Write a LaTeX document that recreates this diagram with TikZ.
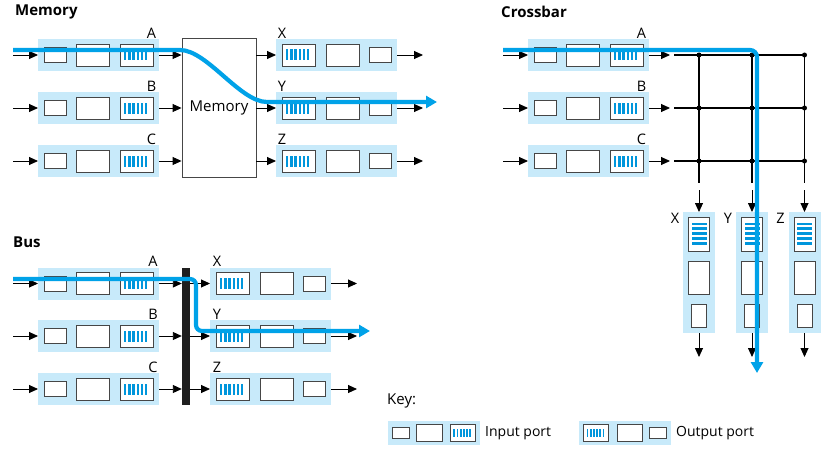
\documentclass[tikz,border=0pt]{standalone}
\usepackage{fontspec}
\setmainfont{Open Sans}
\usetikzlibrary{arrows.meta,calc}
\definecolor{portbg}{RGB}{200,234,250}
\definecolor{qblue}{RGB}{0,150,220}
\definecolor{pathblue}{RGB}{0,162,232}
\definecolor{boxline}{RGB}{70,70,70}
\tikzset{
  portnode/.style={fill=portbg, draw=none, inner sep=0pt, outer sep=0pt},
  boxd/.style={draw=boxline, fill=white, line width=0.9pt},
  arr/.style={draw=black, line width=0.9pt, -{Triangle[length=9pt,width=8pt]}},
  flow/.style={draw=pathblue, line width=4.2pt, -{Triangle[length=11pt,width=12pt]}},
  lab/.style={font=\fontsize{14.5}{16}\selectfont, inner sep=0pt},
  ttl/.style={font=\fontsize{15}{17}\selectfont\bfseries, inner sep=0pt, anchor=west},
  keytxt/.style={font=\fontsize{14}{16}\selectfont, inner sep=0pt, anchor=west},
  gridline/.style={draw=black, line width=1.1pt},
  dotnode/.style={circle, fill=black, inner sep=0pt, minimum size=5pt},
}
\newcommand\inport[4]{%
  \node[portnode, minimum width=#4*121pt, minimum height=#4*32pt] (#1) at (#2,#3) {};
  \begin{scope}[shift={(#2,#3)}, scale=#4]
    \draw[boxd] (-54.5,-7.5) rectangle (-32.5,7.5);
    \draw[boxd] (-22.5,-11) rectangle (10.5,11);
    \draw[boxd] (21.5,-11) rectangle (54.5,11);
    \foreach \i in {0,...,5} \fill[qblue] (25.5+\i*4.2,-5.5) rectangle ++(2.4,11);
  \end{scope}}
\newcommand\outport[4]{%
  \node[portnode, minimum width=#4*121pt, minimum height=#4*32pt] (#1) at (#2,#3) {};
  \begin{scope}[shift={(#2,#3)}, scale=#4]
    \draw[boxd] (-54.5,-11) rectangle (-21.5,11);
    \foreach \i in {0,...,5} \fill[qblue] (-50.5+\i*4.2,-5.5) rectangle ++(2.4,11);
    \draw[boxd] (-10.5,-11) rectangle (22.5,11);
    \draw[boxd] (32.5,-7.5) rectangle (54.5,7.5);
  \end{scope}}
\newcommand\voutport[3]{%
  \node[portnode, minimum width=32pt, minimum height=121pt] (#1) at (#2,#3) {};
  \begin{scope}[shift={(#2,#3)}]
    \draw[boxd] (-10.5,-55.5) rectangle (10.5,-21.5);
    \foreach \i in {0,...,4} \fill[qblue] (-7.5,-50+\i*4.9) rectangle ++(15,2.4);
    \draw[boxd] (-10.5,-11.5) rectangle (10.5,21.5);
    \draw[boxd] (-7.5,31.5) rectangle (7.5,54.5);
  \end{scope}}
\begin{document}
\begin{tikzpicture}[x=1pt,y=-1pt]
\useasboundingbox (0,0) rectangle (840,452);

% ===== Memory =====
\node[ttl] (tmem) at (15,12) {Memory};
\node[draw=boxline, fill=white, line width=0.9pt, minimum width=74pt, minimum height=139pt,
      inner sep=0pt, font=\fontsize{15}{17}\selectfont] (mem) at (219,107.5) {Memory};
\foreach \n/\y/\li/\lo in {A/55/A/X, B/108/B/Y, C/161/C/Z}{
  \inport{m\n}{98.5}{\y}{1}
  \outport{mo\n}{336.5}{\y}{1}
  \coordinate (mi\n) at (13,\y);
  \coordinate (mq\n) at (423,\y);
  \draw[arr] (mi\n) -- (m\n.west);
  \draw[arr] (m\n.east) -- (m\n.east -| mem.west);
  \draw[arr] (mem.east |- mo\n) -- (mo\n.west);
  \draw[arr] (mo\n.east) -- (mq\n);
  \node[lab] (mlab\n) at ($(m\n.north east)+(-7.5,-6)$) {\li};
  \node[lab] (molab\n) at ($(mo\n.north west)+(6,-6)$) {\lo};
}

% ===== Crossbar =====
\node[ttl] (tcross) at (501,12) {Crossbar};
\foreach \n/\y in {A/55, B/108, C/161}{
  \inport{c\n}{588.5}{\y}{1}
  \coordinate (ci\n) at (503,\y);
  \coordinate (ce\n) at (670,\y);
  \coordinate (gl\n) at (674,\y);
  \coordinate (gr\n) at (805,\y);
  \draw[arr] (ci\n) -- (c\n.west);
  \draw[arr] (c\n.east) -- (ce\n);
  \draw[gridline] (gl\n) -- (gr\n);
}
\node[lab] (clabA) at ($(cA.north east)+(-7.5,-6)$) {A};
\node[lab] (clabB) at ($(cB.north east)+(-7.5,-6)$) {B};
\node[lab] (clabC) at ($(cC.north east)+(-7.5,-6)$) {C};
\foreach \k/\x/\lo in {1/699/X, 2/752/Y, 3/804.5/Z}{
  \coordinate (vt\k) at (\x,55);
  \coordinate (vb\k) at (\x,183);
  \coordinate (vs\k) at (\x,190);
  \coordinate (ve\k) at (\x,357);
  \draw[gridline] (vt\k) -- (vb\k);
  \voutport{co\k}{\x}{272.5}
  \draw[arr] (vs\k) -- (co\k.north);
  \draw[arr] (co\k.south) -- (ve\k);
  \node[lab] (colab\k) at ($(co\k.north west)+(-8,6)$) {\lo};
  \node[dotnode] (dA\k) at (\x,55) {};
  \node[dotnode] (dB\k) at (\x,108) {};
  \node[dotnode] (dC\k) at (\x,161) {};
}

% ===== Bus =====
\node[ttl] (tbus) at (13,242) {Bus};
\node[fill=black!88, inner sep=0pt, minimum width=8pt, minimum height=137pt] (bus) at (186,336.5) {};
\foreach \n/\y/\li/\lo in {A/283.5/A/X, B/336/B/Y, C/389/C/Z}{
  \inport{b\n}{98.5}{\y}{1}
  \outport{bo\n}{270.5}{\y}{1}
  \coordinate (bi\n) at (13,\y);
  \coordinate (bq\n) at (357,\y);
  \draw[arr] (bi\n) -- (b\n.west);
  \draw[arr] (b\n.east) -- (b\n.east -| bus.west);
  \draw[arr] (bus.east |- bo\n) -- (bo\n.west);
  \draw[arr] (bo\n.east) -- (bq\n);
  \node[lab] (blab\n) at ($(b\n.north east)+(-6,-6)$) {\li};
  \node[lab] (bolab\n) at ($(bo\n.north west)+(7,-6)$) {\lo};
}

% ===== Key =====
\node[keytxt, font=\fontsize{15}{17}\selectfont] (keyt) at (387,401) {Key:};
\inport{kin}{434}{433}{0.76}
\outport{kout}{625}{433}{0.76}
\node[keytxt] (kint) at (485,433) {Input port};
\node[keytxt] (koutt) at (676,433) {Output port};

% ===== Flow paths =====
\coordinate (mf0) at (13,50);
\coordinate (mf1) at (180,50);
\coordinate (mf2) at (267,102);
\coordinate (mf3) at (437,102);
\draw[flow] (mf0) -- (mf1) .. controls (207,50) and (240,102) .. (mf2) -- (mf3);

\coordinate (cf0) at (503,50);
\coordinate (cf1) at (757,50);
\coordinate (cf2) at (757,373);
\draw[flow, rounded corners=7pt] (cf0) -- (cf1) -- (cf2);

\coordinate (bf0) at (13,279);
\coordinate (bf1) at (196,279);
\coordinate (bf2) at (196,331);
\coordinate (bf3) at (370,331);
\draw[flow, rounded corners=6pt] (bf0) -- (bf1) -- (bf2) -- (bf3);
\end{tikzpicture}
\end{document}
